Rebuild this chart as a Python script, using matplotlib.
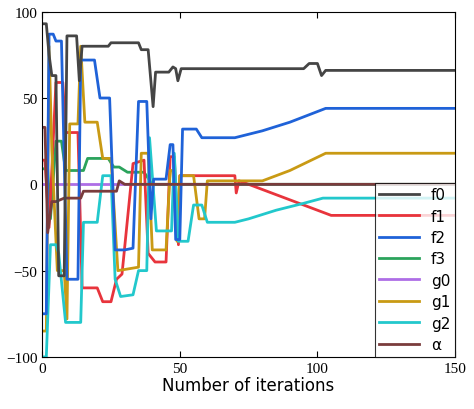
import numpy as np
import matplotlib
matplotlib.use("Agg")
import matplotlib.pyplot as plt

names = ["f0", "f1", "f2", "f3", "g0", "g1", "g2", "\u03b1"]
colors = ["#454545", "#e8343c", "#1f62d8", "#2ba35c", "#ae6ee6", "#c99a14", "#22c8cc", "#7a3c3c"]

f0_x = [0, 1.5, 2.5, 3.5, 5, 6, 8, 9, 12.5, 13.5, 14.5, 24, 25, 35, 36, 38.5, 40.3, 41.2, 46, 47.5, 48.5, 49.3, 50.5, 95, 97, 100, 101.5, 103, 150]
f0_y = [93, 93, 75, 63, 63, -53, -53, 86, 86, 60, 80, 80, 82, 82, 78, 78, 45, 65, 65, 68, 67, 60, 67, 67, 70, 70, 63, 66, 66]
f1_x = [0, 1, 2.5, 4, 5, 7.5, 8.5, 10, 13, 14.5, 20, 22, 25, 27, 29, 33, 37, 38.5, 41, 45, 46.5, 48, 49.5, 50, 70, 70.5, 71.5, 75, 85, 95, 105, 150]
f1_y = [14, 14, -25, 25, 59, 59, 30, 30, 30, -60, -60, -68, -68, -55, -52, 12, 14, -40, -45, -45, 16, 16, -35, 5, 5, -5, 2, 0, -6, -12, -18, -18]
f2_x = [0, 1.5, 2.5, 4, 5, 7, 9, 13, 14, 19, 21, 24.5, 26.5, 30, 33, 35, 38, 39.5, 40.5, 45, 46.5, 47.5, 48.5, 50, 51, 56, 58, 70, 75, 80, 90, 103, 150]
f2_y = [-75, -75, 87, 87, 83, 83, -55, -55, 72, 72, 50, 50, -38, -38, -37, 48, 48, -20, 3, 3, 23, 23, -32, -32, 32, 32, 27, 27, 29, 31, 36, 44, 44]
f3_x = [0, 2, 3, 5, 7, 8.5, 15, 16.5, 24, 26, 28, 31, 37, 40, 150]
f3_y = [9, 9, -20, 25, 25, 8, 8, 15, 15, 10, 10, 7, 7, 0, 0]
g0_x = [0, 150]
g0_y = [0, 0]
g1_x = [0, 1.5, 2.5, 3.5, 5.5, 8, 9, 10, 13, 14, 15.5, 20, 22, 25, 27.5, 35, 36, 38.5, 40, 45, 46.5, 47.5, 49, 50, 55, 57, 59, 60, 80, 90, 103, 150]
g1_y = [-85, -85, 80, 20, -50, -50, -78, 35, 35, 80, 36, 36, 15, 15, -50, -48, 18, 18, -38, -38, 8, 8, -33, 5, 5, -20, -20, 2, 2, 8, 18, 18]
g2_x = [0, 1.5, 3, 5, 6, 8.5, 14, 15, 20, 22, 25, 26.5, 28.5, 33, 35, 38, 39, 41.5, 47, 48, 49.5, 53, 55, 58, 60, 70, 75, 85, 95, 102, 150]
g2_y = [-100, -100, -35, -35, -40, -80, -80, -22, -22, 5, 5, -55, -65, -64, -50, -50, 27, -27, -27, 18, -33, -33, -12, -12, -22, -22, -20, -15, -11, -8, -8]
a_x = [0, 1, 2, 3.5, 5, 8, 9, 14, 15, 27, 28, 30, 40, 150]
a_y = [33, 33, -28, -10, -10, -8, -8, -8, -4, -4, 2, 0, 0, 0]

series = [(f0_x, f0_y), (f1_x, f1_y), (f2_x, f2_y), (f3_x, f3_y),
          (g0_x, g0_y), (g1_x, g1_y), (g2_x, g2_y), (a_x, a_y)]

fig = plt.figure(figsize=(4.74, 4.10), dpi=100)
ax = fig.add_axes([0.089, 0.127, 0.871, 0.842])
order = [4, 3, 1, 5, 6, 2, 7, 0]
lines = {}
for i in order:
    x, y = series[i]
    lines[i], = ax.plot(x, y, color=colors[i], lw=2)
ax.set_xlim(0, 150)
ax.set_ylim(-100, 100)
ax.set_xticks([0, 50, 100, 150])
ax.set_yticks([-100, -50, 0, 50, 100])
for lab in ax.get_xticklabels() + ax.get_yticklabels():
    lab.set_fontfamily("Liberation Serif")
    lab.set_fontsize(11)
ax.tick_params(direction="in", top=True, right=False, length=4)
ax.set_xlabel("Number of iterations", fontsize=12, labelpad=1)
leg = ax.legend([lines[i] for i in range(8)], names, loc="upper right",
                bbox_to_anchor=(1.0, 0.505), frameon=True,
                fancybox=False, edgecolor="black", handlelength=2.6,
                borderpad=0.3, labelspacing=0.42, borderaxespad=0.0,
                prop={"family": "DejaVu Sans", "size": 11})
leg.get_frame().set_linewidth(0.8)
fig.savefig("out.png")
